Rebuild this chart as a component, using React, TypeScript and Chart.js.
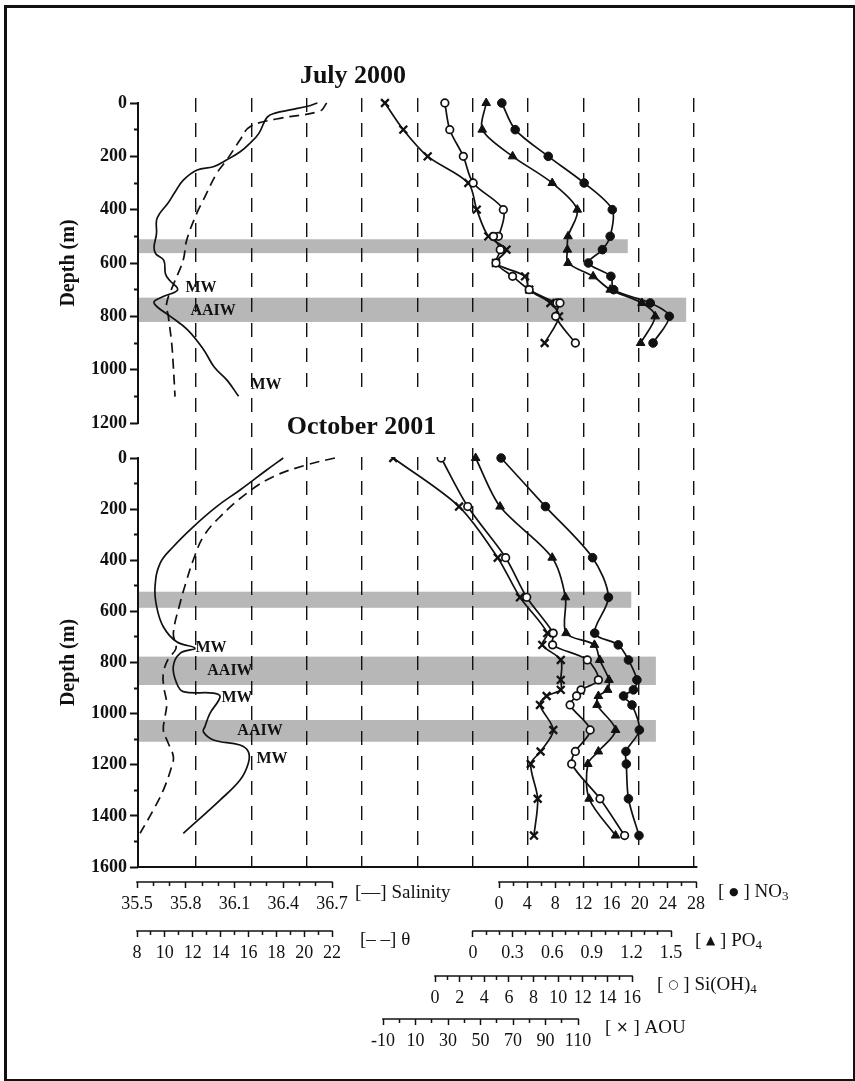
import React, { useEffect, useRef } from 'react';
import { Chart, registerables } from 'chart.js';

Chart.register(...registerables);

/* ---------- July 2000 station ---------- */
const julyDepth = [0, 100, 200, 300, 400, 500, 550, 600, 650, 700, 750, 800, 900];
const julyNO3 = [0.4, 2.3, 7.0, 12.1, 16.1, 15.8, 14.7, 12.7, 15.9, 16.3, 21.5, 24.2, 21.9];
const julyPO4 = [0.1, 0.07, 0.3, 0.6, 0.79, 0.72, 0.715, 0.72, 0.91, 1.04, 1.28, 1.38, 1.27];
const julyAOU = [-8.8, 2.5, 17.5, 42.5, 47.7, 54.8, 66, 59.5, 77.4, 80, 93, 98.3, 89.5];
const julySiDepth = [0, 100, 200, 300, 400, 500, 500, 550, 600, 650, 700, 750, 750, 800, 900];
const julySi = [0.8, 1.2, 2.3, 3.1, 5.55, 5.15, 4.75, 5.3, 4.95, 6.3, 7.65, 9.9, 10.15, 9.8, 11.4];
const julySalDepth = [0, 12, 25, 38, 54, 114, 151, 183, 214, 239, 251, 289, 333, 376, 414, 440, 490, 540, 565, 590, 640, 665, 700, 725, 745, 765, 800, 850, 925, 990, 1040, 1100];
const julySal = [36.61, 36.55, 36.45, 36.35, 36.3, 36.25, 36.195, 36.135, 36.05, 35.97, 35.87, 35.785, 35.735, 35.69, 35.64, 35.62, 35.62, 35.605, 35.615, 35.665, 35.675, 35.7, 35.75, 35.665, 35.605, 35.625, 35.705, 35.81, 35.91, 35.975, 36.055, 36.125];
const julyThetaDepth = [0, 30, 60, 89, 139, 214, 264, 364, 414, 514, 589, 670, 751, 800, 901, 989, 1101];
const julyTheta = [21.62, 21.14, 18.0, 16.11, 15.39, 14.44, 13.72, 12.76, 12.29, 11.57, 11.32, 10.7, 10.13, 10.25, 10.49, 10.61, 10.73];
const julyNoteText = ['MW', 'AAIW', 'MW'];
const julyNoteSal = [35.894, 35.968, 36.294];
const julyNoteDepth = [694, 780, 1057];
const julyLayerTop = [511, 730];
const julyLayerBottom = [563, 821];
const julyLayerReachNO3 = [18.3, 26.6];

/* ---------- October 2001 station ---------- */
const octDepth = [0, 190, 390, 545, 685, 731, 790, 868, 907, 931, 966, 1064, 1148, 1197, 1333, 1477];
const octNO3 = [0.3, 6.6, 13.3, 15.55, 13.6, 16.95, 18.4, 19.6, 19.1, 17.7, 18.9, 19.95, 18.05, 18.1, 18.4, 19.9];
const octPO4 = [0.02, 0.205, 0.6, 0.7, 0.705, 0.92, 0.96, 1.03, 1.02, 0.95, 0.94, 1.08, 0.95, 0.87, 0.88, 1.08];
const octSi = [0.5, 2.66, 5.74, 7.45, 9.6, 9.55, 12.37, 13.27, 11.86, 11.5, 10.97, 12.6, 11.4, 11.1, 13.4, 15.4];
const octAOU = [-3.7, 36.8, 60.6, 74.3, 91.1, 88, 99.4, 99.4, 99.4, 90.7, 86.6, 94.8, 87, 80.9, 85.2, 82.9];
const octSalDepth = [0, 47, 125, 190, 269, 347, 412, 503, 582, 660, 719, 744, 764, 816, 881, 914, 920, 934, 999, 1051, 1071, 1103, 1123, 1149, 1194, 1260, 1338, 1468];
const octSal = [36.4, 36.298, 36.134, 35.99, 35.846, 35.723, 35.642, 35.611, 35.621, 35.662, 35.744, 35.857, 35.765, 35.723, 35.744, 35.785, 35.97, 36.011, 35.949, 35.918, 35.908, 35.97, 36.134, 36.185, 36.185, 36.134, 36.011, 35.785];
const octThetaDepth = [0, 27, 73, 138, 230, 308, 399, 477, 568, 686, 745, 785, 842, 894, 960, 1010, 1064, 1110, 1168, 1207, 1299, 1377, 1468];
const octTheta = [22.21, 20.18, 17.78, 15.88, 13.96, 12.76, 12.04, 11.57, 11.09, 10.61, 10.8, 10.25, 9.89, 9.92, 10.13, 10.02, 9.89, 10.2, 10.61, 10.49, 9.89, 9.17, 8.22];
const octNoteText = ['MW', 'AAIW', 'MW', 'AAIW', 'MW'];
const octNoteSal = [35.955, 36.072, 36.115, 36.257, 36.331];
const octNoteDepth = [743, 833, 939, 1068, 1177];
const octLayerTop = [523, 777, 1025];
const octLayerBottom = [586, 888, 1110];
const octLayerReachNO3 = [18.8, 22.3, 22.3];

/* ---------- tick labels ---------- */
const julyDepthTicks = [0, 200, 400, 600, 800, 1000, 1200];
const octDepthTicks = [0, 200, 400, 600, 800, 1000, 1200, 1400, 1600];
const salinityTicks = [35.5, 35.8, 36.1, 36.4, 36.7];
const thetaTicks = [8, 10, 12, 14, 16, 18, 20, 22];
const no3Ticks = [0, 4, 8, 12, 16, 20, 24, 28];
const po4Ticks = [0, 0.3, 0.6, 0.9, 1.2, 1.5];
const siTicks = [0, 2, 4, 6, 8, 10, 12, 14, 16];
const aouTicks = [-10, 10, 30, 50, 70, 90, 110];
const guideLines = [1, 2, 3, 4, 5, 6, 7, 8, 9, 10];

/* ---------- layout ---------- */
const PAGE_W = 855;
const PLOT_LEFT = 138;
const PLOT_RIGHT = 697;
const INK = '#111';
const LAYER_FILL = '#b7b7b7';
const SERIF = '"Liberation Serif", "Times New Roman", serif';
const SYMBOL = '"DejaVu Sans", sans-serif';

type Run = { text: string; size?: number; dy?: number; family?: string };

interface AxisSpec {
  id: string;
  labels: number[];
  minor: number;
  pxLo: number;
  pxHi: number;
  row: number;
  legend: Run[];
  dx: number;
  dy: number;
}

const AXES: AxisSpec[] = [
  { id: 'sal', labels: salinityTicks, minor: 0.1, pxLo: 137, pxHi: 332, row: 882, legend: [{ text: '[—] Salinity' }], dx: 23, dy: 11 },
  { id: 'theta', labels: thetaTicks, minor: 1, pxLo: 137, pxHi: 332, row: 931, legend: [{ text: '[– –] θ' }], dx: 28, dy: 9 },
  {
    id: 'no3', labels: no3Ticks, minor: 2, pxLo: 499, pxHi: 696, row: 882,
    legend: [{ text: '[ ' }, { text: '●', size: 11, family: SYMBOL }, { text: ' ] NO' }, { text: '3', size: 13, dy: 5 }], dx: 22, dy: 10,
  },
  {
    id: 'po4', labels: po4Ticks, minor: 0.1, pxLo: 473, pxHi: 671, row: 931,
    legend: [{ text: '[ ' }, { text: '▲', size: 12, family: SYMBOL }, { text: ' ] PO' }, { text: '4', size: 13, dy: 5 }], dx: 24, dy: 10,
  },
  {
    id: 'si', labels: siTicks, minor: 1, pxLo: 435, pxHi: 632, row: 976,
    legend: [{ text: '[ ' }, { text: '○', size: 12, family: SYMBOL }, { text: ' ] Si(OH)' }, { text: '4', size: 13, dy: 5 }], dx: 25, dy: 9,
  },
  {
    id: 'aou', labels: aouTicks, minor: 10, pxLo: 383, pxHi: 578, row: 1019,
    legend: [{ text: '[ ' }, { text: '×', size: 15, family: SYMBOL }, { text: ' ] AOU' }], dx: 27, dy: 9,
  },
];

interface PanelSpec {
  canvasTop: number;
  canvasHeight: number;
  areaTop: number;
  areaBottom: number;
  zeroPx: number;
  endPx: number;
  maxDepth: number;
  depthLabels: number[];
  title: string;
  titleX: number;
  titleBase: number;
  titleMask?: { x: number; y: number; w: number; h: number };
  showAxes: boolean;
  depth: number[];
  no3: number[];
  po4: number[];
  aou: number[];
  siDepth: number[];
  si: number[];
  salDepth: number[];
  sal: number[];
  thetaDepth: number[];
  theta: number[];
  noteText: string[];
  noteSal: number[];
  noteDepth: number[];
  layerTop: number[];
  layerBottom: number[];
  layerReach: number[];
}

const JULY: PanelSpec = {
  canvasTop: 0, canvasHeight: 470, areaTop: 98, areaBottom: 456,
  zeroPx: 103, endPx: 423, maxDepth: 1200, depthLabels: julyDepthTicks,
  title: 'July 2000', titleX: 353, titleBase: 83, showAxes: false,
  depth: julyDepth, no3: julyNO3, po4: julyPO4, aou: julyAOU, siDepth: julySiDepth, si: julySi,
  salDepth: julySalDepth, sal: julySal, thetaDepth: julyThetaDepth, theta: julyTheta,
  noteText: julyNoteText, noteSal: julyNoteSal, noteDepth: julyNoteDepth,
  layerTop: julyLayerTop, layerBottom: julyLayerBottom, layerReach: julyLayerReachNO3,
};

const OCTOBER: PanelSpec = {
  canvasTop: 380, canvasHeight: 701, areaTop: 456, areaBottom: 867,
  zeroPx: 458, endPx: 867, maxDepth: 1600, depthLabels: octDepthTicks,
  title: 'October 2001', titleX: 361.5, titleBase: 434,
  titleMask: { x: 280, y: 392, w: 166, h: 65 }, showAxes: true,
  depth: octDepth, no3: octNO3, po4: octPO4, aou: octAOU, siDepth: octDepth, si: octSi,
  salDepth: octSalDepth, sal: octSal, thetaDepth: octThetaDepth, theta: octTheta,
  noteText: octNoteText, noteSal: octNoteSal, noteDepth: octNoteDepth,
  layerTop: octLayerTop, layerBottom: octLayerBottom, layerReach: octLayerReachNO3,
};

/* ---------- helpers ---------- */
function spanLimits(lo: number, hi: number, pxLo: number, pxHi: number) {
  const u = (hi - lo) / (pxHi - pxLo);
  return { min: lo - (pxLo - PLOT_LEFT) * u, max: hi + (PLOT_RIGHT - pxHi) * u };
}

function steps(lo: number, hi: number, step: number) {
  const n = Math.round((hi - lo) / step);
  return Array.from({ length: n + 1 }, (_, i) => +(lo + i * step).toFixed(6));
}

const near = (list: number[], v: number) => list.some((l) => Math.abs(l - v) < 1e-6);
const fmt = (v: number) => String(Math.round(v * 10) / 10);

function drawRuns(ctx: CanvasRenderingContext2D, x: number, y: number, runs: Run[]) {
  let cx = x;
  for (const r of runs) {
    ctx.font = `${r.size ?? 19}px ${r.family ?? SERIF}`;
    ctx.fillText(r.text, cx, y + (r.dy ?? 0));
    cx += ctx.measureText(r.text).width;
  }
}

const points = (depths: number[], values: number[]) => depths.map((d, i) => ({ x: values[i], y: d }));

function decorPlugin(p: PanelSpec) {
  return {
    id: 'panelDecor',
    beforeDraw(chart: any) {
      const { ctx, chartArea, scales } = chart;
      ctx.save();
      ctx.fillStyle = LAYER_FILL;
      p.layerTop.forEach((d0, i) => {
        const y0 = scales.y.getPixelForValue(d0);
        const y1 = scales.y.getPixelForValue(p.layerBottom[i]);
        const x1 = scales.no3.getPixelForValue(p.layerReach[i]);
        ctx.fillRect(chartArea.left, y0, x1 - chartArea.left, y1 - y0);
      });
      ctx.restore();
    },
    afterDatasetsDraw(chart: any) {
      const { ctx, scales } = chart;
      ctx.save();
      ctx.fillStyle = INK;
      ctx.font = `bold 16px ${SERIF}`;
      ctx.textAlign = 'center';
      ctx.textBaseline = 'middle';
      p.noteText.forEach((t, i) => {
        ctx.fillText(t, scales.sal.getPixelForValue(p.noteSal[i]), scales.y.getPixelForValue(p.noteDepth[i]));
      });
      ctx.restore();
    },
    afterDraw(chart: any) {
      const { ctx, chartArea, scales } = chart;
      const y = scales.y;
      const y0 = y.getPixelForValue(0);
      const y1 = y.getPixelForValue(p.maxDepth);
      ctx.save();
      ctx.strokeStyle = INK;
      ctx.lineWidth = 2;
      ctx.beginPath();
      ctx.moveTo(chartArea.left, y0 - 1);
      ctx.lineTo(chartArea.left, y1 + 1);
      ctx.stroke();

      ctx.fillStyle = INK;
      ctx.save();
      ctx.font = `bold 20px ${SERIF}`;
      ctx.textAlign = 'center';
      ctx.textBaseline = 'middle';
      ctx.translate(69, (y0 + y1) / 2);
      ctx.rotate(-Math.PI / 2);
      ctx.fillText('Depth (m)', 0, 0);
      ctx.restore();

      if (p.titleMask) {
        const m = p.titleMask;
        ctx.fillStyle = '#fff';
        ctx.fillRect(m.x, m.y - p.canvasTop, m.w, m.h);
      }
      ctx.fillStyle = INK;
      ctx.font = `bold 26px ${SERIF}`;
      ctx.textAlign = 'center';
      ctx.textBaseline = 'alphabetic';
      ctx.fillText(p.title, p.titleX, p.titleBase - p.canvasTop);

      if (p.showAxes) {
        ctx.lineWidth = 1.6;
        ctx.textAlign = 'left';
        ctx.textBaseline = 'middle';
        for (const a of AXES) {
          const s = scales[a.id];
          const row = Math.round(y.getPixelForValue((a.row - p.zeroPx) / ((p.endPx - p.zeroPx) / p.maxDepth)));
          const xa = s.getPixelForValue(a.labels[0]);
          const xb = s.getPixelForValue(a.labels[a.labels.length - 1]);
          ctx.beginPath();
          ctx.moveTo(xa - 0.8, row);
          ctx.lineTo(xb + 0.8, row);
          ctx.stroke();
          drawRuns(ctx, xb + a.dx, row + a.dy, a.legend);
        }
      }
      ctx.restore();
    },
  };
}

function buildChart(canvas: HTMLCanvasElement, p: PanelSpec) {
  const pxPerM = (p.endPx - p.zeroPx) / p.maxDepth;
  const yMin = -(p.zeroPx - p.areaTop) / pxPerM;
  const yMax = (p.areaBottom - p.zeroPx) / pxPerM;
  const depthSteps = steps(0, p.maxDepth, 100);
  const g = spanLimits(guideLines[0], guideLines[guideLines.length - 1], 196, 694);

  const scales: Record<string, any> = {
    y: {
      type: 'linear',
      axis: 'y',
      position: 'left',
      reverse: true,
      min: yMin,
      max: yMax,
      afterBuildTicks: (s: any) => { s.ticks = depthSteps.map((value) => ({ value })); },
      afterFit: (s: any) => { s.width = PLOT_LEFT; s.paddingTop = 0; s.paddingBottom = 0; },
      border: { display: false },
      grid: {
        drawOnChartArea: false,
        drawTicks: true,
        tickLength: 8,
        tickWidth: 2,
        tickColor: INK,
        tickBorderDash: (c: any) => (c.tick && near(p.depthLabels, c.tick.value) ? [] : [0, 4, 4, 0]),
      },
      ticks: {
        autoSkip: false,
        padding: 3,
        color: INK,
        font: { family: SERIF, size: 18, weight: 'bold' },
        callback: (v: number) => (near(p.depthLabels, v) ? String(v) : ''),
      },
    },
    g: {
      type: 'linear',
      axis: 'x',
      position: 'bottom',
      min: g.min,
      max: g.max,
      afterBuildTicks: (s: any) => { s.ticks = guideLines.map((value) => ({ value })); },
      afterFit: (s: any) => { s.height = 0; s.paddingLeft = 0; s.paddingRight = 0; },
      grid: { display: true, drawOnChartArea: true, drawTicks: false, color: INK, lineWidth: 1.4 },
      border: { display: p.showAxes, color: INK, width: 2, dash: [14, 11] },
      ticks: { display: false },
    },
  };

  for (const a of AXES) {
    const lo = a.labels[0];
    const hi = a.labels[a.labels.length - 1];
    const lim = spanLimits(lo, hi, a.pxLo, a.pxHi);
    const tickValues = steps(lo, hi, a.minor);
    if (!p.showAxes) {
      scales[a.id] = { type: 'linear', axis: 'x', position: 'bottom', display: false, min: lim.min, max: lim.max };
      continue;
    }
    scales[a.id] = {
      type: 'linear',
      axis: 'x',
      position: { y: (a.row - p.zeroPx) / pxPerM },
      min: lim.min,
      max: lim.max,
      afterBuildTicks: (s: any) => { s.ticks = tickValues.map((value) => ({ value })); },
      afterFit: (s: any) => { s.paddingLeft = 0; s.paddingRight = 0; },
      border: { display: false },
      grid: {
        drawOnChartArea: false,
        drawTicks: true,
        tickLength: 6,
        tickWidth: 1.5,
        tickColor: INK,
        tickBorderDash: (c: any) => (c.tick && near(a.labels, c.tick.value) ? [] : [4, 20]),
      },
      ticks: {
        autoSkip: false,
        maxRotation: 0,
        minRotation: 0,
        padding: 5,
        color: INK,
        font: { family: SERIF, size: 18 },
        callback: (v: number) => (near(a.labels, v) ? fmt(v) : ''),
      },
    };
  }

  const base = { yAxisID: 'y', borderColor: INK, fill: false, clip: false };
  const marker = (style: string, r: number, fillColor: string, bw: number) => ({
    pointStyle: style,
    pointRadius: r,
    pointBackgroundColor: fillColor,
    pointBorderColor: INK,
    pointBorderWidth: bw,
    borderWidth: 1.7,
    tension: 0.3,
  });

  const datasets: any[] = [
    { ...base, label: 'NO3', xAxisID: 'no3', data: points(p.depth, p.no3), ...marker('circle', 4.3, INK, 1) },
    { ...base, label: 'PO4', xAxisID: 'po4', data: points(p.depth, p.po4), ...marker('triangle', 5, INK, 1) },
    { ...base, label: 'Si(OH)4', xAxisID: 'si', data: points(p.siDepth, p.si), ...marker('circle', 3.8, '#fff', 1.7) },
    { ...base, label: 'AOU', xAxisID: 'aou', data: points(p.depth, p.aou), ...marker('crossRot', 5.5, INK, 2.3) },
    { ...base, label: 'Salinity', xAxisID: 'sal', data: points(p.salDepth, p.sal), pointRadius: 0, borderWidth: 1.7, tension: 0.4 },
    { ...base, label: 'θ', xAxisID: 'theta', data: points(p.thetaDepth, p.theta), pointRadius: 0, borderWidth: 1.7, tension: 0.4, borderDash: [10, 6] },
  ];

  return new Chart(canvas, {
    type: 'line',
    data: { datasets },
    options: {
      responsive: false,
      animation: false,
      devicePixelRatio: 1,
      events: [],
      layout: {
        autoPadding: false,
        padding: {
          left: 0,
          top: p.areaTop - p.canvasTop,
          right: PAGE_W - PLOT_RIGHT,
          bottom: p.canvasTop + p.canvasHeight - p.areaBottom,
        },
      },
      plugins: { legend: { display: false }, tooltip: { enabled: false } },
      scales,
    } as any,
    plugins: [decorPlugin(p)],
  });
}

export default function App() {
  const topRef = useRef<HTMLCanvasElement>(null);
  const bottomRef = useRef<HTMLCanvasElement>(null);

  useEffect(() => {
    const a = buildChart(topRef.current!, JULY);
    const b = buildChart(bottomRef.current!, OCTOBER);
    return () => {
      a.destroy();
      b.destroy();
    };
  }, []);

  return (
    <div style={{ position: 'absolute', left: 0, top: 0, width: PAGE_W, height: 1081, background: '#fff', overflow: 'hidden' }}>
      <div
        style={{
          position: 'absolute', left: 4, top: 5, width: 851, height: 1076, boxSizing: 'border-box',
          borderStyle: 'solid', borderColor: INK, borderWidth: '3px 2px 2px 3px',
        }}
      />
      <canvas
        ref={topRef}
        width={PAGE_W}
        height={JULY.canvasHeight}
        style={{ position: 'absolute', left: 0, top: JULY.canvasTop, width: PAGE_W, height: JULY.canvasHeight }}
      />
      <canvas
        ref={bottomRef}
        width={PAGE_W}
        height={OCTOBER.canvasHeight}
        style={{ position: 'absolute', left: 0, top: OCTOBER.canvasTop, width: PAGE_W, height: OCTOBER.canvasHeight }}
      />
    </div>
  );
}
